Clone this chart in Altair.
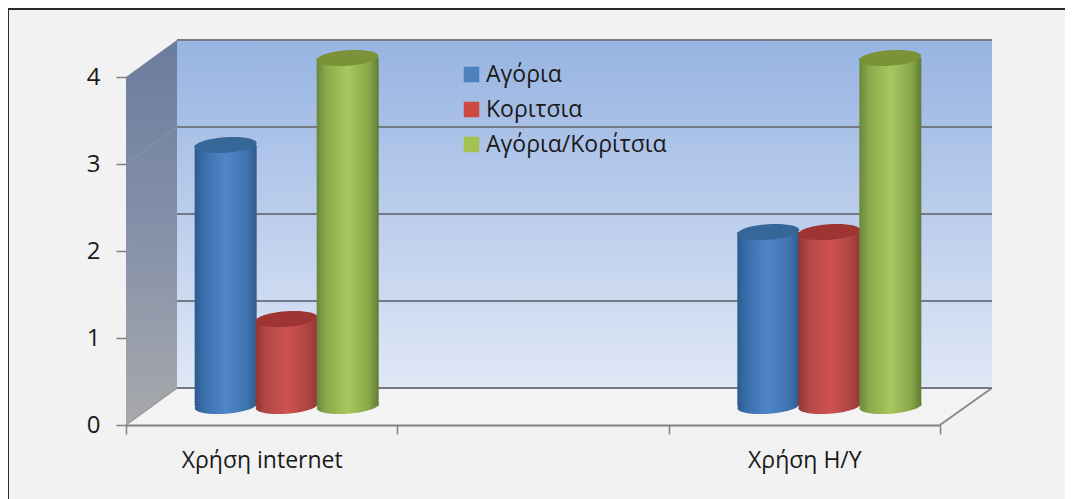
import altair as alt
import pandas as pd

categories = ["Χρήση internet", " ", "Χρήση Η/Υ"]
series = ["Αγόρια", "Κοριτσια", "Αγόρια/Κορίτσια"]
cat_labels = ["Χρήση internet", "Χρήση internet", "Χρήση internet", "Χρήση Η/Υ", "Χρήση Η/Υ", "Χρήση Η/Υ"]
ser_labels = series + series
values = [3, 1, 4, 2, 2, 4]
grid_values = [0, 1, 2, 3, 4]
side_values = [1, 2, 3]

FONT = "Open Sans"
W, H = 866, 385
UNIT = 87.0
DEPTH_X, DEPTH_Y = 51, 37
BAR_LIFT = -19
BAND = 814 / 3

df = pd.DataFrame({"cat": cat_labels, "series": ser_labels, "value": values, "zero": [0] * 6})
grid = pd.DataFrame({"v": grid_values})
side = pd.DataFrame({"v": side_values, "v2": [v + DEPTH_Y / UNIT for v in side_values]})
one = pd.DataFrame({"a": [0]})

yscale = alt.Scale(domain=[0, H / UNIT], range=[H, 0], nice=False, zero=False)
xscale = alt.Scale(type="band", domain=categories, range=[0, 814], paddingInner=0, paddingOuter=0)
offscale = alt.Scale(type="point", domain=series, range=[BAND / 2 - 36, BAND / 2 + 86], padding=0)

x_axis = alt.Axis(zindex=1, tickBand="extent", tickSize=9, tickColor="#808080", tickWidth=1.5,
                  domainColor="#808080", domainWidth=2, labelAngle=0, labelFont=FONT,
                  labelFontSize=23, labelColor="#1a1a1a", labelPadding=15, grid=False)
y_axis = alt.Axis(zindex=1, values=grid_values, tickSize=10, tickColor="#808080", tickWidth=1.5,
                  domain=False, grid=False, labelFont=FONT, labelFontSize=24,
                  labelColor="#1a1a1a", labelPadding=16, format="d")

def lin(stops, vertical=False):
    g = dict(gradient="linear", x1=0, x2=0 if vertical else 1, y1=0, y2=1 if vertical else 0,
             stops=[alt.GradientStop(offset=o, color=c) for o, c in stops])
    return alt.LinearGradient(**g)

def Y(field):
    return alt.Y(field, scale=yscale, stack=None, axis=y_axis, title=None)

frame = alt.Chart(one).mark_rect(fill="#f2f2f2", stroke="#2a2a2a", strokeWidth=2).encode(
    x=alt.value(-118), x2=alt.value(1000), y=alt.value(-31), y2=alt.value(520))

back = alt.Chart(one).mark_rect(
    fill=lin([(0, "#97b4e2"), (0.5, "#bbcdec"), (1, "#e0e8f6")], vertical=True)
).encode(x=alt.value(DEPTH_X), x2=alt.value(W), y=alt.value(0), y2=alt.value(H - DEPTH_Y))

wall_shape = f"M0,{DEPTH_Y} L{DEPTH_X},0 L{DEPTH_X},{H-DEPTH_Y} L0,{H} Z"
wall = alt.Chart(one).mark_point(
    shape=wall_shape, size=4, filled=True, opacity=1, strokeWidth=0,
    fill=lin([(0, "#6a7c9d"), (0.5, "#8591a9"), (1, "#a8a9ac")], vertical=True)
).encode(x=alt.value(0), y=alt.value(0))

floor_shape = f"M0,{H} L{DEPTH_X},{H-DEPTH_Y} L{W},{H-DEPTH_Y} L814,{H} Z"
floor = alt.Chart(one).mark_point(
    shape=floor_shape, size=4, filled=True, opacity=1, strokeWidth=0, fill="#f3f3f3"
).encode(x=alt.value(0), y=alt.value(0))

side_lines = alt.Chart(side).mark_rule(color="#8b97ad", strokeWidth=1.5, opacity=0.6).encode(
    x=alt.value(0), x2=alt.value(DEPTH_X), y=Y("v:Q"), y2="v2:Q")

floor_left = alt.Chart(one).mark_rule(color="#9a9a9a", strokeWidth=1.5).encode(
    x=alt.value(0), x2=alt.value(DEPTH_X), y=alt.value(H), y2=alt.value(H - DEPTH_Y))
floor_right = alt.Chart(one).mark_rule(color="#8a8a8a", strokeWidth=2).encode(
    x=alt.value(814), x2=alt.value(W), y=alt.value(H), y2=alt.value(H - DEPTH_Y))

grid_rules = alt.Chart(grid).mark_rule(color="#747a84", strokeWidth=2, yOffset=-DEPTH_Y).encode(
    x=alt.value(DEPTH_X), x2=alt.value(W), y=Y("v:Q"))

legend_layer = alt.Chart(df).mark_point(filled=True, shape="square", size=0).encode(
    color=alt.Color("series:N", sort=series,
                    scale=alt.Scale(domain=series, range=["#4f81bd", "#cc4a40", "#a4c24f"]),
                    legend=alt.Legend(orient="none", legendX=334, legendY=23, title=None,
                                      symbolType="square", symbolSize=240, symbolStrokeWidth=0,
                                      symbolOpacity=1,
                                      labelFont=FONT, labelFontSize=23, labelColor="#1a1a1a",
                                      rowPadding=11, symbolOffset=0, labelOffset=3,
                                      padding=0, labelLimit=300)),
    y=alt.value(100), x=alt.value(100))

ELLIPSE = "M-0.998,0.07 A1,0.25 -4 0 1 0.998,-0.07 A1,0.25 -4 0 1 -0.998,0.07 Z"
ELL_SIZE = 3844
styles = {
    "Αγόρια": ([(0, "#2c5a8e"), (0.15, "#3a6fab"), (0.5, "#4f86c9"), (0.85, "#3d72ad"), (1, "#2f5b8c")], "#376699"),
    "Κοριτσια": ([(0, "#8e3532"), (0.15, "#b14745"), (0.5, "#cc5250"), (0.85, "#ae4543"), (1, "#8f3835")], "#9e3532"),
    "Αγόρια/Κορίτσια": ([(0, "#69873a"), (0.15, "#8aa94b"), (0.5, "#a7c75f"), (0.85, "#86a548"), (1, "#5f7c34")], "#7b9338"),
}

layers = [frame, back, wall, side_lines, floor, floor_left, floor_right, grid_rules]

xenc = alt.X("cat:N", scale=xscale, axis=x_axis, title=None)
offenc = alt.XOffset("series:N", scale=offscale)
for s in series:
    stops, cap = styles[s]
    grad = lin(stops)
    sub = alt.Chart(df).transform_filter(alt.datum.series == s)
    base = sub.mark_point(
        shape=ELLIPSE, size=ELL_SIZE, filled=True, opacity=1, strokeWidth=0,
        fill=grad, yOffset=BAR_LIFT).encode(x=xenc, xOffset=offenc, y=Y("zero:Q"))
    body = sub.mark_bar(width=62, fill=grad, yOffset=BAR_LIFT, y2Offset=BAR_LIFT).encode(
        x=xenc, xOffset=offenc, y=Y("value:Q"), y2="zero:Q")
    top = sub.mark_point(shape=ELLIPSE, size=ELL_SIZE, filled=True, opacity=1, strokeWidth=0,
                         fill=cap, yOffset=BAR_LIFT).encode(x=xenc, xOffset=offenc, y=Y("value:Q"))
    layers += [base, body, top]

layers.append(legend_layer)

chart = alt.layer(*layers).properties(
    width=W, height=H,
    autosize=alt.AutoSizeParams(type="none"),
    padding={"left": 118, "top": 32, "right": 73, "bottom": 74},
    background="#ffffff",
).configure_view(stroke=None)

chart.save("out.html", embed_options={"renderer": "svg", "actions": False})
